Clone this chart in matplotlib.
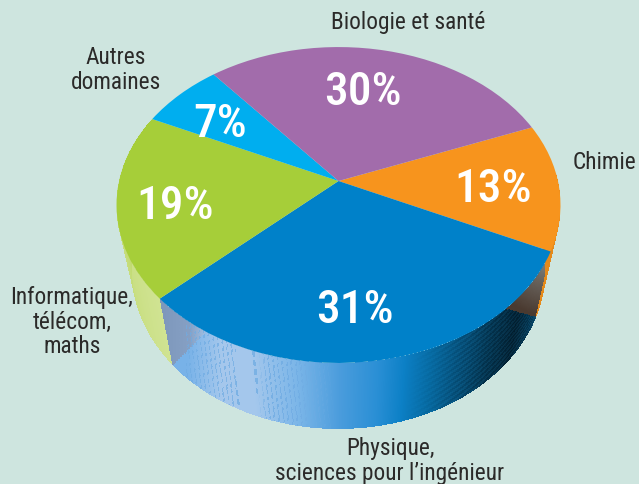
import numpy as np
import matplotlib
matplotlib.use("Agg")
import matplotlib.pyplot as plt
from matplotlib.transforms import Transform
from matplotlib.colors import to_rgb

categories = ["Chimie", "Physique,\nsciences pour l\u2019ing\u00e9nieur", "Informatique,\nt\u00e9l\u00e9com,\nmaths",
              "Autres\ndomaines", "Biologie et sant\u00e9"]
values = [13, 31, 19, 7, 30]
value_labels = ["13%", "31%", "19%", "7%", "30%"]
slice_colors = ["#f7941d", "#0081c9", "#a6ce39", "#00aeef", "#a26cab"]
BG = "#cee5df"
START = 21.5

CX, CY, A, B, K = 338.5, 182.0, 219.4, 154.3, 0.152
SX, DY = 0.93, 66.0
FONT = ["Roboto Condensed", "Liberation Sans", "DejaVu Sans"]


class Persp(Transform):
    input_dims = output_dims = 2

    def transform_non_affine(self, values):
        p = np.asarray(values, float)
        vd = -p[:, 1]
        w = 1 - K * vd
        return np.column_stack([CX + A * p[:, 0] / w, CY + B * vd / w])

    def inverted(self):
        raise NotImplementedError


persp = Persp()
fig = plt.figure(figsize=(6.39, 4.85), dpi=100, facecolor=BG)
ax = fig.add_axes([0, 0, 1, 1])
wedges, _ = ax.pie(values, colors=slice_colors, startangle=START, counterclock=False,
                   wedgeprops=dict(edgecolor="none", linewidth=0))
ax.set_aspect("auto")
ax.set_xlim(0, 639)
ax.set_ylim(485, 0)
ax.axis("off")
for w in wedges:
    w.set_transform(persp + ax.transData)
    w.set_clip_on(False)
    w.set_zorder(3)

# slice boundaries (degrees, running clockwise)
edges = START - np.cumsum([0] + values) * 3.6
th_or_bl, th_bl_gr = edges[1], edges[2]

# side wall
NT, NS = 1400, 44
th = np.linspace(th_bl_gr - 68, 3, NT + 1)
sv = np.linspace(0, 1, NS + 1)
top = persp.transform(np.column_stack([np.cos(np.radians(th)), np.sin(np.radians(th))]))
X = CX + (top[:, 0][None, :] - CX) * (1 - (1 - SX) * sv[:, None])
Y = top[:, 1][None, :] + DY * sv[:, None]
xc = 0.25 * (X[:-1, :-1] + X[1:, :-1] + X[:-1, 1:] + X[1:, 1:])
yc = 0.25 * (Y[:-1, :-1] + Y[1:, :-1] + Y[:-1, 1:] + Y[1:, 1:])
tc = 0.5 * (th[:-1] + th[1:])[None, :].repeat(NS, 0)
sc = 0.5 * (sv[:-1] + sv[1:])[:, None].repeat(NT, 1)
xt = 0.5 * (top[:-1, 0] + top[1:, 0])[None, :].repeat(NS, 0)


def ramp(x, stops):
    xs = [s[0] for s in stops]
    cols = np.array([to_rgb(s[1]) for s in stops])
    return np.stack([np.interp(x, xs, cols[:, i]) for i in range(3)], -1)


def mix(base, other, w):
    return base * (1 - w[..., None]) + other * w[..., None]


def side(px, py, a, b):
    return (b[0] - a[0]) * (py - a[1]) - (b[1] - a[1]) * (px - a[0])


blue = ramp(xt, [(161, "#a6c8ec"), (250, "#a4c7ec"), (295, "#7cb6e8"), (340, "#4a9cdc"),
                 (378, "#2a8fd5"), (405, "#0c80c6"), (432, "#06689f"), (462, "#044a72"),
                 (492, "#02304a"), (522, "#011c2c"), (551, "#053f5e")])
# concentric moire in the dark part
fade = np.clip((xt - 410) / 60, 0, 1)
bands = 0.5 + 0.5 * np.sin(2 * np.pi * (sc * 12 + (xt - 430) * 0.045))
blue = blue + (fade * bands * 0.075)[..., None] * np.array([0.3, 0.9, 1.2])

# left shaded areas
l2, l3 = (173, 367), (206, 333)
upper = side(xc, yc, l2, l3) < 0
grey = ramp(xc, [(161, "#7d97bb"), (205, "#8aa4c8")])
low = np.ones_like(blue) * np.array(to_rgb("#78b2e8"))
w_grey = upper * np.clip((212 - xc) / 22, 0, 1)
w_low = (~upper) * np.clip((222 - xc) / 34, 0, 1)
blue = mix(blue, grey, w_grey)
blue = mix(blue, low, w_low)

# sheared vertical dashes in the light part
dash = (np.sin(2 * np.pi * (xc - sc * 7) / 4.6) > 0.45) & (np.sin(2 * np.pi * (sc * 8 + xc * 0.35)) > -0.2)
sparse = ((xc > 236) & (xc < 258)) * (np.abs(((xc - sc * 8) % 22) - 11) < 1.3) * (np.sin(2 * np.pi * sc * 7) > -0.4)
dense = np.clip((xc - 258) / 10, 0, 1) * np.clip((335 - xc) / 40, 0, 1) * dash
nearby = ((xc < 236) & (xc > 186)) * dash
left_dash = np.clip(np.maximum.reduce([sparse * 1.0, dense, nearby * 0.9]), 0, 1)
blue = mix(blue, np.ones_like(blue) * np.array(to_rgb("#6fabe2")), left_dash * 0.75)

green = ramp(tc, [(th_bl_gr - 68, "#a6ce39"), (th_bl_gr - 48, "#b4d455"),
                  (th_bl_gr - 32, "#c4dc78"), (th_bl_gr, "#d0e392")])
orange = np.ones_like(blue) * np.array(to_rgb("#e58a1b"))
C = np.where((tc < th_bl_gr)[..., None], green, blue)
C = np.where((tc > th_or_bl)[..., None], orange, C)

# right shaded triangle
r1, r2, r3 = (551, 252), (507, 310), (536, 318)
in_right = (tc < th_or_bl) & (side(xc, yc, r2, r3) < 0) & (xc > 495)
d = np.clip(np.hypot(xc - r1[0], yc - r1[1]) / 65, 0, 1)
brown = ramp(d, [(0, "#8a9496"), (0.45, "#6b6660"), (1, "#4a3a30")])
C = np.where(in_right[..., None], brown, C)

ax.pcolormesh(X, Y, np.clip(C, 0, 1), shading="flat", antialiased=False, zorder=1, linewidth=0)

# percentages
pct_pos = [(493, 185), (355, 306), (175, 202), (220, 120), (363, 88)]
for (px, py), lab in zip(pct_pos, value_labels):
    ax.text(px, py, lab, color="white", fontsize=34, fontweight=500, family=FONT,
            ha="center", va="center_baseline", zorder=5)

# category labels
label_pos = [(604, 163), (390, 461), (72, 322), (116, 70), (408, 23)]
for (px, py), lab in zip(label_pos, categories):
    ax.text(px, py, lab, color="#2b2a29", fontsize=16.8, family=FONT, ha="center", va="center",
            linespacing=1.1, zorder=5)

fig.savefig("out.png", dpi=100, facecolor=BG)
